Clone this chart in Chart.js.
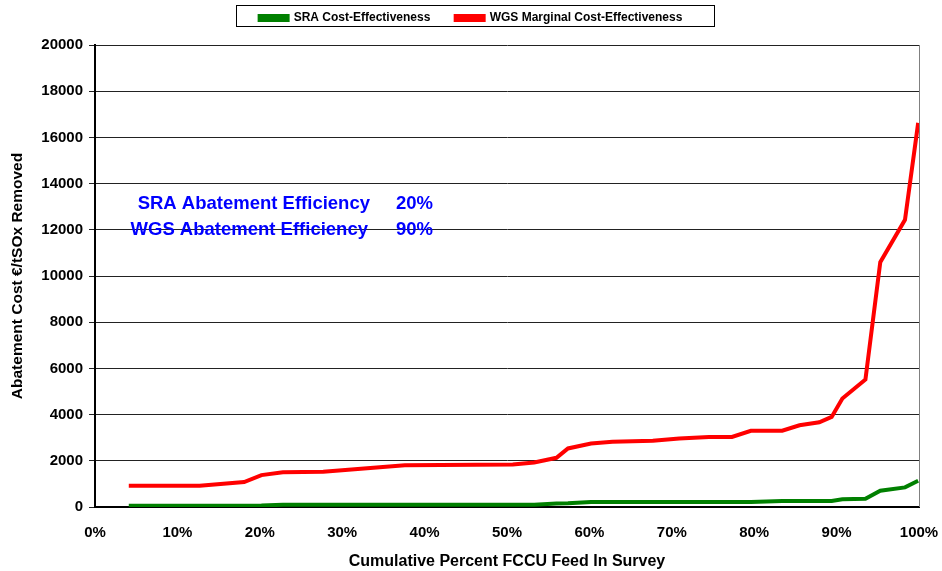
<!DOCTYPE html>
<html>
<head>
<meta charset="utf-8">
<script src="https://cdn.jsdelivr.net/npm/chart.js@4.4.0/dist/chart.umd.min.js"></script>
<style>
  body { margin: 0; background: #fff; }
  #wrap { width: 942px; height: 571px; }
</style>
</head>
<body>
<div id="wrap"><canvas id="costChart" width="942" height="571"></canvas></div>
<script>
// cumulative percent of FCCU feed (x) and costs in EUR per t SOx removed
var feedPct = [4.1, 12.7, 18.1, 20.2, 22.8, 27.7, 37.6, 50.7, 53.3, 56.0, 57.4, 60.2, 62.8, 67.7, 70.9, 74.5, 77.3, 79.6, 83.4, 85.5, 87.9, 89.4, 90.7, 93.5, 95.3, 98.3, 99.9];
var sraCost = [50, 50, 50, 60, 100, 100, 100, 100, 100, 150, 160, 216, 216, 216, 216, 216, 216, 216, 260, 260, 260, 260, 333, 360, 705, 850, 1136];
var wgsCost = [920, 920, 1080, 1380, 1500, 1525, 1810, 1840, 1930, 2130, 2535, 2750, 2820, 2865, 2965, 3035, 3035, 3300, 3300, 3540, 3670, 3900, 4695, 5516, 10596, 12430, 16630];
var seriesNames = ['SRA Cost-Effectiveness', 'WGS Marginal Cost-Effectiveness'];
var noteLines = [['SRA Abatement Efficiency', '20%'], ['WGS Abatement Efficiency', '90%']];

function toPoints(ys) {
    return feedPct.map(function (x, i) { return { x: x, y: ys[i] }; });
}

var FONT = 'Liberation Sans, Arial, sans-serif';

// leave some room under the legend
var legendGap = {
    id: 'legendGap',
    beforeInit: function (chart) {
        var origFit = chart.legend.fit;
        chart.legend.fit = function () {
            origFit.bind(chart.legend)();
            this.height += 11;
        };
    }
};

// legend frame, right plot edge and the efficiency notes
var extras = {
    id: 'extras',
    afterDraw: function (chart) {
        var c = chart.ctx;
        var area = chart.chartArea;
        c.save();
        c.strokeStyle = '#808080';
        c.lineWidth = 1;
        c.beginPath();
        c.moveTo(Math.round(area.right) + 0.5, area.top);
        c.lineTo(Math.round(area.right) + 0.5, area.bottom);
        c.stroke();

        c.strokeStyle = '#000';
        c.strokeRect(236.5, 5.5, 478, 21);

        c.fillStyle = '#0000ff';
        c.font = 'bold 18.5px ' + FONT;
        c.textBaseline = 'alphabetic';
        c.textAlign = 'right';
        c.fillText(noteLines[0][0], 370, 209);
        c.fillText(noteLines[1][0], 368, 235);
        c.textAlign = 'left';
        c.fillText(noteLines[0][1], 396, 209);
        c.fillText(noteLines[1][1], 396, 235);
        c.restore();
    }
};

var ctx = document.getElementById('costChart').getContext('2d');
var costChart = new Chart(ctx, {
    type: 'line',
    data: {
        datasets: [{
            label: seriesNames[0],
            data: toPoints(sraCost),
            borderColor: '#008000',
            backgroundColor: '#008000',
            borderWidth: 4,
            pointRadius: 0,
            tension: 0
        }, {
            label: seriesNames[1],
            data: toPoints(wgsCost),
            borderColor: '#ff0000',
            backgroundColor: '#ff0000',
            borderWidth: 4,
            pointRadius: 0,
            tension: 0
        }]
    },
    options: {
        responsive: false,
        animation: false,
        layout: { padding: { top: 0, right: 0, left: 0, bottom: 0 } },
        plugins: {
            tooltip: { enabled: false },
            legend: {
                position: 'top',
                labels: {
                    boxWidth: 28,
                    boxHeight: 4,
                    padding: 12,
                    color: '#000',
                    font: { family: FONT, size: 12, weight: 'bold' },
                    generateLabels: function (chart) {
                        var items = Chart.defaults.plugins.legend.labels.generateLabels(chart);
                        // wider gap after the first entry
                        items[0].text = items[0].text + '    ';
                        return items;
                    }
                }
            }
        },
        scales: {
            x: {
                type: 'linear',
                min: 0,
                max: 100,
                ticks: {
                    stepSize: 10,
                    color: '#000',
                    padding: 17,
                    font: { family: FONT, size: 15, weight: 'bold' },
                    callback: function (v) { return v + '%'; }
                },
                grid: { display: false, drawTicks: false },
                border: { color: '#000', width: 2 },
                title: {
                    display: true,
                    text: 'Cumulative Percent FCCU Feed In Survey',
                    color: '#000',
                    padding: { top: 3, bottom: 0 },
                    font: { family: FONT, size: 16, weight: 'bold' }
                },
                afterFit: function (scale) {
                    scale.height = 64;
                    scale.paddingRight = 23;
                }
            },
            y: {
                min: 0,
                max: 20000,
                ticks: {
                    stepSize: 2000,
                    color: '#000',
                    padding: 6,
                    font: { family: FONT, size: 15, weight: 'bold' },
                    callback: function (v) { return String(v); }
                },
                grid: { color: '#222', lineWidth: 1, tickLength: 6 },
                border: { color: '#000', width: 2 },
                title: {
                    display: true,
                    text: 'Abatement Cost €/tSOx Removed',
                    color: '#000',
                    padding: { top: 8, bottom: 4 },
                    font: { family: FONT, size: 15.5, weight: 'bold' }
                },
                afterFit: function (scale) { scale.width = 95; }
            }
        }
    },
    plugins: [legendGap, extras]
});
</script>
</body>
</html>
